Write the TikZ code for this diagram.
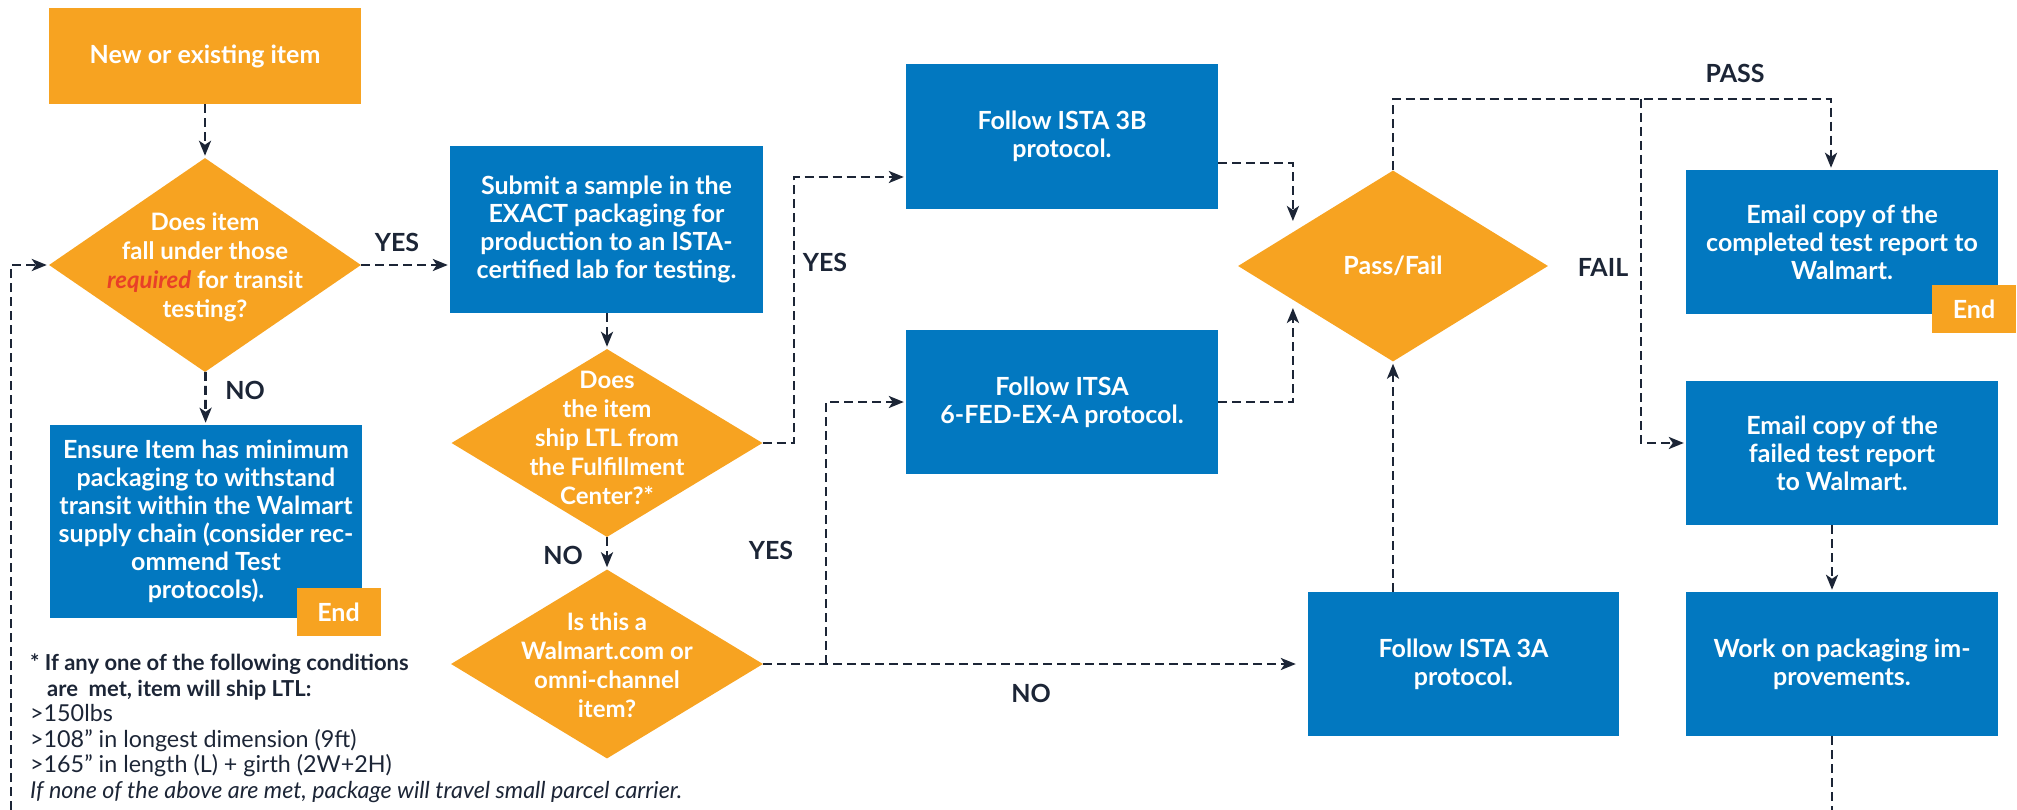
\documentclass[tikz,border=0pt]{standalone}
\usepackage{fontspec}
\setmainfont{Lato}
\usetikzlibrary{shapes.geometric, arrows.meta, calc}
\definecolor{worange}{RGB}{247,163,33}
\definecolor{wblue}{RGB}{2,120,192}
\definecolor{wnavy}{RGB}{28,37,54}
\definecolor{wred}{RGB}{232,64,40}
\begin{document}
\begin{tikzpicture}[x=1pt,y=-1pt,
  box/.style={rectangle, fill=wblue, text=white, font=\bfseries\fontsize{25}{28}\selectfont, align=center, inner sep=0pt, minimum width=312pt},
  obox/.style={box, fill=worange},
  dia/.style={diamond, fill=worange, inner sep=0pt},
  dtext/.style={text=white, font=\bfseries\fontsize{24}{29}\selectfont, align=center, inner sep=0pt},
  endbox/.style={rectangle, fill=worange, text=white, font=\bfseries\fontsize{25}{28}\selectfont, minimum width=84pt, minimum height=48pt, inner sep=0pt},
  lbl/.style={text=wnavy, font=\bfseries\fontsize{25}{28}\selectfont, inner sep=0pt},
  arr/.style={draw=wnavy, line width=2.7pt, dash pattern=on 9pt off 5pt, -{Stealth[length=15pt,width=12pt,inset=4pt]}, shorten >=2pt},
  ln/.style={draw=wnavy, line width=2.7pt, dash pattern=on 9pt off 5pt},
]
\useasboundingbox (0,0) rectangle (2017,810);

% nodes
\node[obox, minimum height=96pt] (new) at (205,56) {New or existing item};
\node[dia, minimum width=312pt, minimum height=214pt] (d1) at (205,265) {};
\node[dtext] (d1t) at (205,267) {Does item\\fall under those\\{\color{wred}\itshape required} for transit\\testing?};
\node[box, minimum height=193pt] (ens) at (206,521.5) {Ensure Item has minimum\\packaging to withstand\\transit within the Walmart\\supply chain (consider rec-\\ommend Test\\protocols).};
\node[endbox] (end1) at (338.5,612) {End};

\node[box, minimum width=313pt, minimum height=167pt] (sub) at (606.5,229.5) {Submit a sample in the\\EXACT packaging for\\production to an ISTA-\\certified lab for testing.};
\node[dia, minimum width=311pt, minimum height=188pt] (d2) at (607,443) {};
\node[dtext] (d2t) at (607,438) {Does\\the item\\ship LTL from\\the Fulfillment\\Center?*};
\node[dia, minimum width=312pt, minimum height=189pt] (d3) at (607,664) {};
\node[dtext] (d3t) at (607,665) {Is this a\\Walmart.com or\\omni-channel\\item?};

\node[box, minimum height=145pt] (b3b) at (1062,136.5) {Follow ISTA 3B\\protocol.};
\node[box, minimum height=144pt] (b6) at (1062,402) {Follow ITSA\\6-FED-EX-A protocol.};
\node[dia, minimum width=310pt, minimum height=191pt] (pf) at (1393,266) {};
\node[dtext, font=\bfseries\fontsize{25}{28}\selectfont] (pft) at (1393,266) {Pass/Fail};
\node[box, minimum width=311pt, minimum height=144pt] (b3a) at (1463.5,664) {Follow ISTA 3A\\protocol.};
\node[box, minimum height=144pt] (em1) at (1842,242) {Email copy of the\\completed test report to\\Walmart.};
\node[endbox] (end2) at (1974,309) {End};
\node[box, minimum height=144pt] (em2) at (1842,453) {Email copy of the\\failed test report\\to Walmart.};
\node[box, minimum height=144pt] (work) at (1842,664) {Work on packaging im-\\provements.};

\node[anchor=north west, align=left, inner sep=0pt, text=wnavy, font=\fontsize{23.3}{25.5}\selectfont] (note) at (30,654) {{\bfseries\fontsize{22}{25.5}\selectfont * If any one of the following conditions}\\\hspace*{17pt}{\bfseries\fontsize{22}{25.5}\selectfont are\ \ met, item will ship LTL:}\\>150lbs\\>108" in longest dimension (9ft)\\>165" in length (L) + girth (2W+2H)\\\textit{If none of the above are met, package will travel small parcel carrier.}};

% labels
\node[lbl] (yes1) at (397,242) {YES};
\node[lbl] (no1) at (245,390) {NO};
\node[lbl] (yes2) at (825,262) {YES};
\node[lbl] (no2) at (563,555) {NO};
\node[lbl] (yes3) at (771,550) {YES};
\node[lbl] (no3) at (1031,693) {NO};
\node[lbl] (pass) at (1735,73) {PASS};
\node[lbl] (fail) at (1603,267) {FAIL};

% connectors
\draw[arr] (new) -- (d1);
\draw[arr] (d1.east) -- (d1.east -| sub.west);
\draw[arr] (d1) -- (ens);
\coordinate (loopB) at (11,810);
\draw[arr] (loopB) |- (d1.west);
\draw[arr] (d2.north |- sub.south) -- (d2.north);
\draw[arr] (d2) -- (d3);
\coordinate (c1) at (794,177);
\draw[arr] (d2.east) -| (c1) -- (c1 -| b3b.west);
\coordinate (c2) at (826,664);
\draw[arr] (c2) |- (b6.west);
\draw[arr, shorten >=12pt] (d3.east) -- (d3.east -| b3a.west);
\coordinate (pfa) at ($(pf.west)!0.355!(pf.north)$);
\coordinate (pfb) at ($(pf.west)!0.355!(pf.south)$);
\draw[arr, shorten >=11pt] ($(b3b.east)+(0,26.5)$) -| (pfa);
\draw[arr, shorten >=8pt] (b6.east) -| (pfb);
\draw[arr] (b3a.north -| pf.south) -- (pf.south);
\coordinate (c3) at (1831,99);
\draw[arr] (pf.north) |- (c3) -- (c3 |- em1.north);
\coordinate (c4) at (1641,99);
\draw[arr] (c4) |- ($(em2.west)+(0,-10)$);
\draw[arr] ($(em2.south)+(-10,0)$) -- ($(work.north)+(-10,0)$);
\coordinate (workB) at (1832,810);
\draw[ln] (work.south -| workB) -- (workB);
\end{tikzpicture}
\end{document}
